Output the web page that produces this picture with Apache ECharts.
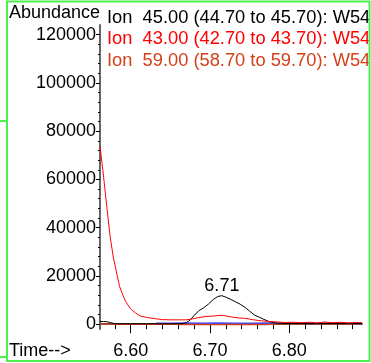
<!DOCTYPE html>
<html>
<head>
<meta charset="utf-8">
<script src="https://cdn.jsdelivr.net/npm/echarts@6/dist/echarts.min.js"></script>
<style>
  html, body { margin: 0; padding: 0; background: #fff; }
  #chart { width: 371px; height: 363px; }
</style>
</head>
<body>
<div id="chart"></div>
<script>
// ion 43 (red)
const ion43Times = [6.5613, 6.565, 6.570, 6.574, 6.578, 6.582, 6.586, 6.590, 6.594, 6.600, 6.606, 6.612,
  6.620, 6.630, 6.640, 6.650, 6.660, 6.670, 6.678, 6.685, 6.695, 6.705, 6.715, 6.725, 6.735, 6.745,
  6.755, 6.765, 6.775, 6.785, 6.795, 6.805, 6.815, 6.825, 6.835, 6.845, 6.855, 6.865, 6.875, 6.885, 6.8917]
const ion43Values = [73800, 63600, 48300, 36500, 27900, 21700, 15600, 12100, 9200, 6300, 4700, 3400,
  2800, 2300, 1900, 1800, 1800, 1800, 2200, 2700, 3200, 3400, 3700, 3100, 2600, 2400,
  1800, 1400, 1100, 900, 700, 800, 600, 800, 500, 900, 600, 800, 500, 700, 600]

// ion 45 (black)
const ion45Times = [6.5613, 6.566, 6.570, 6.575, 6.580, 6.590, 6.610, 6.630, 6.650, 6.665, 6.670, 6.675,
  6.680, 6.686, 6.692, 6.698, 6.704, 6.710, 6.715, 6.720, 6.726, 6.732, 6.738, 6.744, 6.750, 6.756,
  6.762, 6.768, 6.775, 6.782, 6.790, 6.810, 6.830, 6.850, 6.870, 6.8917]
const ion45Values = [1100, 1100, 1000, 600, 200, 150, 150, 150, 150, 250, 600, 1700,
  3600, 5600, 6800, 8300, 10200, 11500, 11800, 11200, 10300, 9300, 8300, 7000, 5400, 3800,
  2900, 2000, 1000, 500, 300, 300, 250, 300, 250, 300]

// ion 59 (orange red)
const ion59Times = [6.5613, 6.575, 6.590, 6.605, 6.620, 6.635, 6.650, 6.665, 6.680, 6.695, 6.710,
  6.725, 6.740, 6.755, 6.770, 6.785, 6.800, 6.815, 6.830, 6.845, 6.860, 6.875, 6.8917]
const ion59Values = [100, -100, 0, -100, 50, -50, 0, -150, -100, -200, -150,
  -100, -200, -100, -150, 0, 200, 100, 300, 100, 250, 150, 200]

// unlabelled blue trace
const blueTimes = [6.632, 6.650, 6.670, 6.690, 6.710, 6.730, 6.750, 6.770, 6.790, 6.810, 6.830, 6.850, 6.870, 6.8917]
const blueValues = [450, 450, 500, 450, 500, 450, 450, 500, 450, 400, 450, 400, 450, 400]

const peakTime = 6.715
const peakValue = 11800
const peakLabel = '6.71'

const yTicks = [0, 20000, 40000, 60000, 80000, 100000, 120000]
const yMinorTicks = []
for (let v = 4000; v < 124000; v += 4000) if (v % 20000) yMinorTicks.push(v)
const xTicks = [6.6, 6.7, 6.8]
const xMinorTicks = [6.58, 6.62, 6.64, 6.66, 6.68, 6.72, 6.74, 6.76, 6.78, 6.82, 6.84, 6.86, 6.88]

const legendNames = [
  'Ion  45.00 (44.70 to 45.70): W54.D\\data.ms',
  'Ion  43.00 (42.70 to 43.70): W54.D\\data.ms',
  'Ion  59.00 (58.70 to 59.70): W54.D\\data.ms'
]

const FONT = '"Liberation Sans", Arial, sans-serif'
const GREEN = '#4cf04c'

function pairs(ts, vs) {
  return ts.map((t, i) => [t, vs[i]])
}

const chart = echarts.init(document.getElementById('chart'))

const yBase = {
  type: 'value',
  gridIndex: 0,
  position: 'left',
  min: -2000,
  max: 124000,
  splitLine: { show: false }
}

chart.setOption({
  animation: false,
  textStyle: { fontFamily: FONT },
  grid: { left: 100, right: 9, top: 25, bottom: 34 },
  legend: legendNames.map((name, i) => ({
    data: [name],
    left: 97,
    top: [3.5, 25, 46.5][i],
    icon: 'none',
    itemWidth: 0,
    itemHeight: 18,
    selectedMode: false,
    textStyle: { fontSize: 18.3, fontFamily: FONT, color: ['#000000', '#ff0000', '#d4401a'][i] }
  })),
  xAxis: [{
    type: 'value',
    min: 6.5613,
    max: 6.8917,
    axisLine: { show: true, lineStyle: { color: '#555', width: 2 } },
    axisTick: { show: true, length: 9, customValues: xTicks, lineStyle: { color: '#000', width: 1 } },
    axisLabel: {
      customValues: xTicks, margin: 13, fontSize: 18, color: '#000', fontFamily: FONT,
      formatter: v => v.toFixed(2)
    },
    splitLine: { show: false }
  }, {
    type: 'value',
    min: 6.5613,
    max: 6.8917,
    position: 'bottom',
    axisLine: { show: false },
    axisTick: { show: true, length: 5, customValues: xMinorTicks, lineStyle: { color: '#000', width: 1 } },
    axisLabel: { show: false },
    splitLine: { show: false }
  }],
  yAxis: [Object.assign({}, yBase, {
    axisLine: { show: true, lineStyle: { color: '#666', width: 2 } },
    axisTick: { show: true, length: 4, customValues: yTicks, lineStyle: { color: '#000', width: 1 } },
    axisLabel: {
      customValues: yTicks, margin: 4, fontSize: 18, color: '#000', fontFamily: FONT,
      formatter: v => String(v)
    }
  }), Object.assign({}, yBase, {
    axisLine: { show: false },
    axisTick: { show: true, length: 2, customValues: yMinorTicks, lineStyle: { color: '#000', width: 1 } },
    axisLabel: { show: false }
  })],
  series: [
    {
      name: 'blue',
      type: 'line',
      showSymbol: false,
      data: pairs(blueTimes, blueValues),
      lineStyle: { color: '#4848ff', width: 1.2 },
      itemStyle: { color: '#4848ff' },
      z: 1
    },
    {
      name: legendNames[2],
      type: 'line',
      showSymbol: false,
      data: pairs(ion59Times, ion59Values),
      lineStyle: { color: '#d4401a', width: 1.2 },
      itemStyle: { color: '#d4401a' },
      z: 2
    },
    {
      name: legendNames[0],
      type: 'line',
      showSymbol: false,
      data: pairs(ion45Times, ion45Values),
      lineStyle: { color: '#000000', width: 1 },
      itemStyle: { color: '#000000' },
      markPoint: {
        symbol: 'circle',
        symbolSize: 0,
        data: [{ coord: [peakTime, peakValue] }],
        label: {
          show: true, position: 'top', distance: 1, formatter: peakLabel,
          fontSize: 18, color: '#000', fontFamily: FONT
        }
      },
      z: 3
    },
    {
      name: legendNames[1],
      type: 'line',
      showSymbol: false,
      data: pairs(ion43Times, ion43Values),
      lineStyle: { color: '#ff0000', width: 1 },
      itemStyle: { color: '#ff0000' },
      z: 4
    }
  ],
  graphic: [
    { type: 'text', left: 9, top: 4, style: { text: 'Abundance', font: '18px ' + FONT, fill: '#000' } },
    { type: 'text', left: 9, top: 342, style: { text: 'Time-->', font: '18px ' + FONT, fill: '#000' } },
    { type: 'rect', z: 100, shape: { x: 7, y: 1.5, width: 362.5, height: 359.5 },
      style: { fill: 'none', stroke: GREEN, lineWidth: 2 } },
    { type: 'line', z: 100, shape: { x1: 0, y1: 121, x2: 7, y2: 121 }, style: { stroke: GREEN, lineWidth: 2 } },
    { type: 'line', z: 100, shape: { x1: 0, y1: 357, x2: 7, y2: 357 }, style: { stroke: GREEN, lineWidth: 2 } }
  ]
})
</script>
</body>
</html>
